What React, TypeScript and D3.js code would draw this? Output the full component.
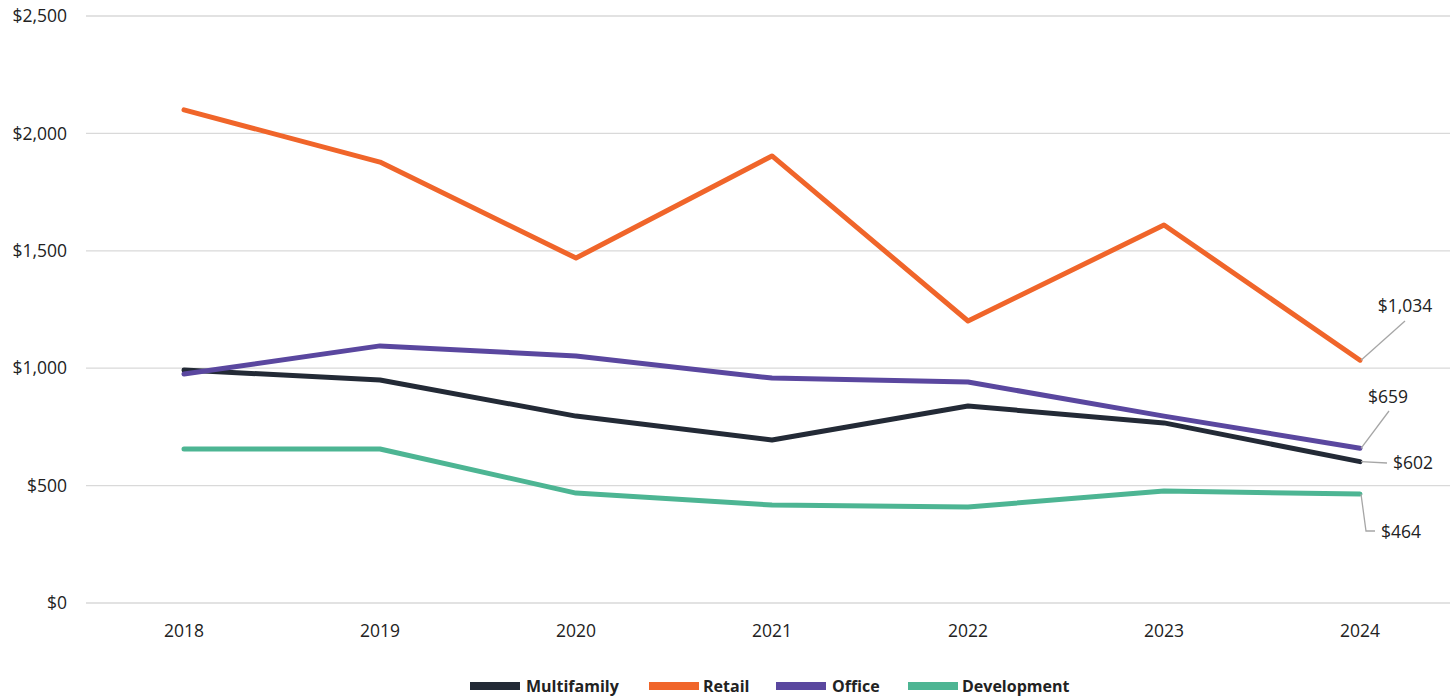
import React from "react";
import * as d3 from "d3";

const years = ["2018", "2019", "2020", "2021", "2022", "2023", "2024"];
const multifamily = [992, 950, 796, 694, 839, 767, 602];
const retail = [2100, 1878, 1469, 1904, 1201, 1610, 1034];
const office = [975, 1095, 1052, 958, 941, 796, 659];
const development = [656, 656, 468, 417, 409, 477, 464];
const yTicks = [0, 500, 1000, 1500, 2000, 2500];

const seriesNames = ["Multifamily", "Retail", "Office", "Development"];
const seriesValues = [multifamily, retail, office, development];
const seriesColors = ["#232a36", "#f0652a", "#5a479f", "#4db593"];

const W = 1453;
const H = 700;
const left = 86;
const right = 1450;
const top = 16;
const bottom = 603;

export default function App() {
  const x = d3.scalePoint<string>().domain(years).range([left, 1458]).padding(0.5);
  const y = d3.scaleLinear().domain([0, 2500]).range([bottom, top]);
  const line = d3
    .line<number>()
    .x((_, i) => x(years[i]) as number)
    .y((d) => y(d));
  const fmt = (v: number) => "$" + d3.format(",")(v);
  const font = "'Open Sans', sans-serif";
  const lastX = x(years[years.length - 1]) as number;

  const legendItems = [
    { sx: 470, tx: 526 },
    { sx: 649, tx: 703 },
    { sx: 776, tx: 832 },
    { sx: 908, tx: 962 },
  ];

  const lastR = retail[retail.length - 1];
  const lastO = office[office.length - 1];
  const lastM = multifamily[multifamily.length - 1];
  const lastD = development[development.length - 1];

  return (
    <svg width={W} height={H} style={{ position: "absolute", left: 0, top: 0, background: "#fff" }} fontFamily={font}>
      {yTicks.map((t) => (
        <g key={t}>
          <line x1={left} x2={right} y1={y(t)} y2={y(t)} stroke="#d9d9d9" strokeWidth={1.3} />
          <text x={67} y={y(t)} dy="0.35em" textAnchor="end" fontSize={17.5} fill="#222">
            {fmt(t)}
          </text>
        </g>
      ))}
      {years.map((yr) => (
        <text key={yr} x={x(yr) as number} y={631} dy="0.35em" textAnchor="middle" fontSize={17.5} fill="#222">
          {yr}
        </text>
      ))}
      {seriesValues.map((vals, i) => (
        <path key={seriesNames[i]} d={line(vals) || ""} fill="none" stroke={seriesColors[i]} strokeWidth={5} strokeLinejoin="round" strokeLinecap="round" />
      ))}
      {/* data labels */}
      <g stroke="#a6a6a6" strokeWidth={1.3} fill="none">
        <line x1={lastX + 1} y1={y(lastR)} x2={1405} y2={321} />
        <line x1={lastX + 1} y1={y(lastO)} x2={1389} y2={411} />
        <line x1={lastX + 1} y1={y(lastM)} x2={1387} y2={463} />
        <polyline points={`${lastX + 1},${y(lastD)} ${1366},${531} ${1375},${531}`} />
      </g>
      <g fontSize={17.5} fill="#222">
        <text x={1405} y={306} dy="0.35em" textAnchor="middle">{fmt(lastR)}</text>
        <text x={1388} y={397} dy="0.35em" textAnchor="middle">{fmt(lastO)}</text>
        <text x={1393} y={463} dy="0.35em" textAnchor="start">{fmt(lastM)}</text>
        <text x={1381} y={532} dy="0.35em" textAnchor="start">{fmt(lastD)}</text>
      </g>
      {seriesNames.map((n, i) => (
        <g key={n}>
          <rect x={legendItems[i].sx} y={682} width={50} height={8} fill={seriesColors[i]} />
          <text x={legendItems[i].tx} y={686} dy="0.35em" fontSize={16} fontWeight="bold" fill="#222">
            {n}
          </text>
        </g>
      ))}
    </svg>
  );
}
